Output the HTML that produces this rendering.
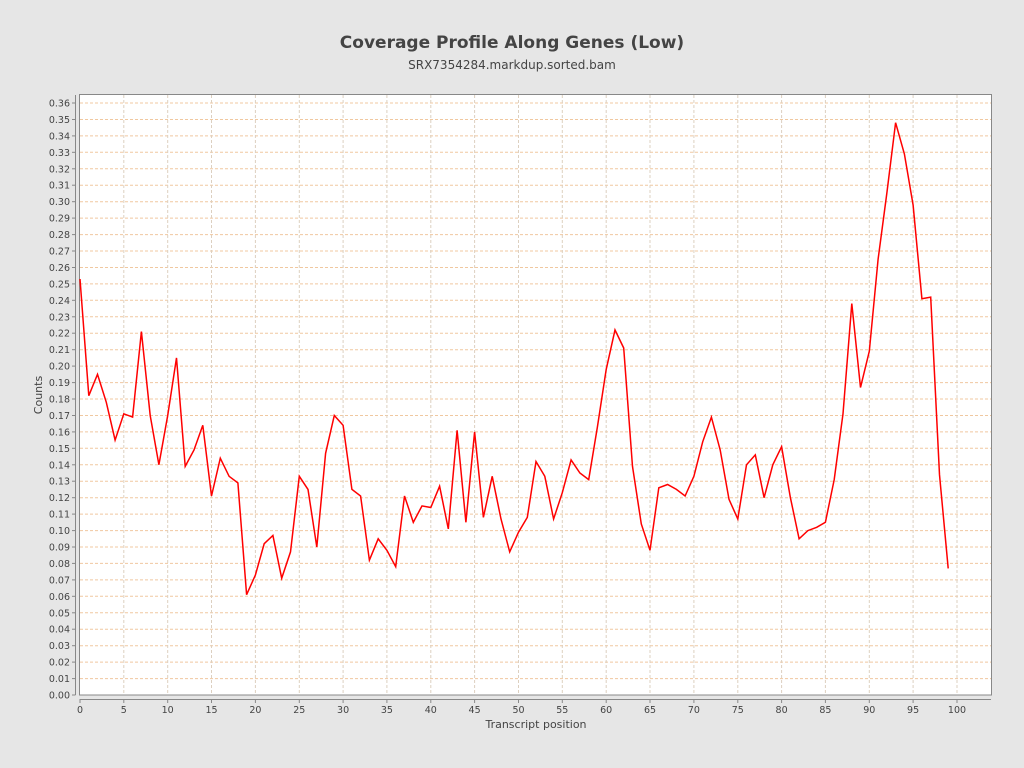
<!DOCTYPE html>
<html><head><meta charset="utf-8"><style>
html,body{margin:0;background:#e6e6e6;overflow:hidden;width:1024px;height:768px}
svg{display:block}
</style></head><body>
<svg id="s" width="1024" height="768" xmlns="http://www.w3.org/2000/svg" font-family="DejaVu Sans, Liberation Sans, sans-serif">
<rect width="1024" height="768" fill="#e6e6e6"/>
<text x="512" y="48" text-anchor="middle" font-size="17" font-weight="bold" fill="#444">Coverage Profile Along Genes (Low)</text>
<text x="512" y="69" text-anchor="middle" font-size="12" fill="#444">SRX7354284.markdup.sorted.bam</text>
<rect x="79.5" y="94.5" width="912" height="600.5" fill="#fff" stroke="#888"/>
<g id="g"></g>
<text x="42" y="395" font-size="11" fill="#444" text-anchor="middle" transform="rotate(-90 42 395)">Counts</text>
<text x="536" y="728" font-size="11" fill="#444" text-anchor="middle">Transcript position</text>
</svg>
<script>
var d=[.253,.182,.195,.178,.155,.171,.169,.221,.170,.140,.170,.205,.139,.149,.164,.121,.144,.133,.129,.061,.073,.092,.097,.071,.087,.133,.125,.090,.147,.170,.164,.125,.121,.082,.095,.088,.078,.121,.105,.115,.114,.127,.101,.161,.105,.160,.108,.133,.107,.087,.099,.108,.142,.133,.107,.123,.143,.135,.131,.163,.198,.222,.211,.139,.104,.088,.126,.128,.125,.121,.133,.154,.169,.149,.119,.107,.140,.146,.120,.140,.151,.120,.095,.100,.102,.105,.131,.171,.238,.187,.209,.265,.305,.348,.329,.298,.241,.242,.134,.077];
function X(i){return 80+i*8.77}function Y(v){return 695-v*1644.4}
var h='';
for(var k=0;k<=36;k++){var y=Y(k/100).toFixed(1);
 if(k>0)h+='<line x1="80" x2="991" y1="'+y+'" y2="'+y+'" stroke="#f0c8a0" stroke-dasharray="3,2"/>';
 h+='<line x1="72" x2="75.5" y1="'+y+'" y2="'+y+'" stroke="#888"/>';
 h+='<text x="70" y="'+(+y+3.5)+'" font-size="9.5" fill="#444" text-anchor="end">'+(k/100).toFixed(2)+'</text>';}
for(var i=0;i<=100;i+=5){var x=X(i).toFixed(1);
 if(i>0)h+='<line x1="'+x+'" x2="'+x+'" y1="95" y2="695" stroke="#ddd0c0" stroke-dasharray="3,2"/>';
 h+='<line x1="'+x+'" x2="'+x+'" y1="699" y2="703" stroke="#888"/>';
 h+='<text x="'+x+'" y="713" font-size="9.5" fill="#444" text-anchor="middle">'+i+'</text>';}
h+='<line x1="75.5" x2="75.5" y1="95" y2="695" stroke="#888"/><line x1="80" x2="991" y1="699.5" y2="699.5" stroke="#888"/>';
var p=d.map(function(v,i){return X(i).toFixed(1)+','+Y(v).toFixed(1)}).join(' ');
h+='<polyline points="'+p+'" fill="none" stroke="#ff0000" stroke-width="1.5"/>';
document.getElementById('g').innerHTML=h;
</script>
</body></html>
